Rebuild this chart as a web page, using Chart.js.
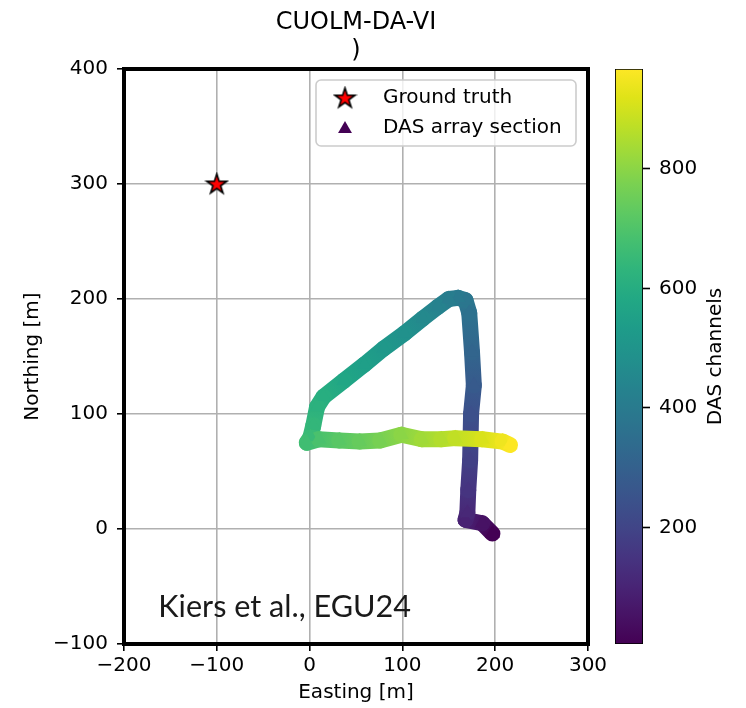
<!DOCTYPE html>
<html>
<head>
<meta charset="utf-8">
<script src="https://cdn.jsdelivr.net/npm/chart.js@4.4.1/dist/chart.umd.min.js"></script>
<style>
  html, body { margin: 0; padding: 0; background: #fff; }
  #wrap { position: relative; width: 746px; height: 708px; }
  #main { position: absolute; left: 0; top: 0; }
  #cbar { position: absolute; left: 600px; top: 0; }
</style>
</head>
<body>
<div id="wrap">
  <canvas id="main" width="746" height="708"></canvas>
  <canvas id="cbar" width="146" height="708"></canvas>
</div>
<script>
// values
const titleLines = ['CUOLM-DA-VI', ')'];
const groundTruthE = [-100];
const groundTruthN = [300];
// DAS array path vertices (m) and channel number at each vertex
const dasEasting  = [197, 186, 168, 170, 171, 173, 174, 177, 175, 172, 168, 160, 150, 138, 122, 102, 80, 59, 37, 15, 8, 4, 1, -3,
                     10, 32, 54, 76, 99, 121, 142, 157, 186, 208, 216];
const dasNorthing = [-4, 5, 8, 14, 34, 60, 100, 125, 154, 188, 199, 201, 200, 193, 183, 170, 157, 143, 129, 115, 106, 90, 80, 75,
                     78, 77, 76, 77, 82, 78, 78, 79, 78, 76, 73];
const dasChannel  = [5, 50, 95, 112, 150, 185, 240, 275, 315, 360, 380, 395, 410, 430, 455, 485, 515, 545, 575, 605, 620, 640, 655, 670,
                     690, 715, 740, 770, 800, 830, 855, 875, 910, 945, 965];
const channelRange = [5, 967];
const xTicks = [-200, -100, 0, 100, 200, 300];
const yTicks = [-100, 0, 100, 200, 300, 400];
const cbTicks = [200, 400, 600, 800];

const FONT = 'DejaVu Sans';

// viridis colour map
const viridis = ['#440154','#471365','#482475','#463480','#414487','#3b528b','#355f8d','#2f6c8e','#2a788e','#25848e',
                 '#21918c','#1e9c89','#22a884','#2fb47c','#44bf70','#5ec962','#7ad151','#9bd93c','#bddf26','#dfe318','#fde725'];
function hex2rgb(h) { return [1, 3, 5].map(i => parseInt(h.substr(i, 2), 16)); }
function cmap(v) {
  let t = (v - channelRange[0]) / (channelRange[1] - channelRange[0]);
  t = Math.max(0, Math.min(1, t)) * (viridis.length - 1);
  const i = Math.min(Math.floor(t), viridis.length - 2), f = t - i;
  const a = hex2rgb(viridis[i]), b = hex2rgb(viridis[i + 1]);
  return 'rgb(' + a.map((c, k) => Math.round(c + (b[k] - c) * f)).join(',') + ')';
}

// star marker like matplotlib '*'
function makeStar(R) {
  const c = document.createElement('canvas');
  const s = Math.ceil(R * 2 + 4);
  c.width = s; c.height = s;
  const g = c.getContext('2d');
  g.translate(s / 2, s / 2 + 0.5);
  g.beginPath();
  for (let i = 0; i < 10; i++) {
    const r = i % 2 ? R * 0.382 : R;
    const a = -Math.PI / 2 + i * Math.PI / 5;
    g.lineTo(r * Math.cos(a), r * Math.sin(a));
  }
  g.closePath();
  g.fillStyle = '#ff0000'; g.fill();
  g.lineWidth = 1.6; g.lineJoin = 'miter'; g.strokeStyle = '#000'; g.stroke();
  return c;
}
const star = makeStar(10.5);

const minus = v => String(v).replace('-', '\u2212');

const framePlugin = {
  id: 'frame',
  afterDatasetsDraw(chart) {
    const { ctx, chartArea: a, scales } = chart;
    ctx.save();
    // annotation text
    ctx.fillStyle = '#1a1a1a';
    ctx.font = '30.6px Lato';
    ctx.textBaseline = 'middle';
    ctx.textAlign = 'left';
    ctx.fillText('Kiers et al., EGU24', scales.x.getPixelForValue(-163), scales.y.getPixelForValue(-68));
    // spines
    ctx.strokeStyle = '#000';
    ctx.lineWidth = 4;
    ctx.strokeRect(a.left, a.top, a.right - a.left, a.bottom - a.top);
    // legend
    const bx = a.right - 272, by = a.top + 11, bw = 260, bh = 66;
    ctx.beginPath();
    ctx.roundRect(bx, by, bw, bh, 5);
    ctx.fillStyle = 'rgba(255,255,255,0.8)';
    ctx.fill();
    ctx.lineWidth = 1.6;
    ctx.strokeStyle = '#cccccc';
    ctx.stroke();
    const ds = chart.data.datasets;
    ctx.drawImage(star, bx + 29 - star.width / 2, by + 18 - star.height / 2);
    ctx.beginPath();
    const tx = bx + 29, ty = by + 48, r = 8;
    for (let i = 0; i < 3; i++) {
      const ang = -Math.PI / 2 + i * 2 * Math.PI / 3;
      ctx.lineTo(tx + r * Math.cos(ang), ty + 1 + r * Math.sin(ang));
    }
    ctx.closePath();
    ctx.fillStyle = cmap(channelRange[0]);
    ctx.fill();
    ctx.fillStyle = '#000';
    ctx.font = '20px "' + FONT + '"';
    ctx.fillText(ds[0].label, bx + 67, by + 18);
    ctx.fillText(ds[1].label, bx + 67, by + 48);
    ctx.restore();
  }
};

new Chart(document.getElementById('main'), {
  type: 'scatter',
  data: {
    datasets: [
      {
        label: 'Ground truth',
        data: groundTruthE.map((e, i) => ({ x: e, y: groundTruthN[i] })),
        pointStyle: star,
        order: 0
      },
      {
        label: 'DAS array section',
        data: dasEasting.map((e, i) => ({ x: e, y: dasNorthing[i] })),
        showLine: true,
        borderWidth: 16,
        borderCapStyle: 'round',
        borderJoinStyle: 'round',
        borderColor: cmap(500),
        segment: {
          borderColor: c => {
            const g = c.chart.ctx.createLinearGradient(c.p0.x, c.p0.y, c.p1.x, c.p1.y);
            g.addColorStop(0, cmap(dasChannel[c.p0DataIndex]));
            g.addColorStop(1, cmap(dasChannel[c.p1DataIndex]));
            return g;
          }
        },
        pointStyle: 'triangle',
        pointRadius: 8.5,
        pointBorderWidth: 0,
        pointBackgroundColor: dasChannel.map(cmap),
        order: 1
      }
    ]
  },
  options: {
    responsive: false,
    animation: false,
    events: [],
    layout: { padding: { left: 0, right: 158, top: 0, bottom: 0 } },
    plugins: {
      legend: { display: false },
      tooltip: { enabled: false },
      title: {
        display: true,
        text: titleLines,
        fullSize: false,
        color: '#000',
        font: { family: FONT, size: 24, weight: 'normal', lineHeight: 1.15 },
        padding: { top: 9, bottom: 4.8 }
      }
    },
    scales: {
      x: {
        type: 'linear', min: -200, max: 300,
        afterFit: s => { s.height = 64; s.paddingLeft = 0; s.paddingRight = 0; },
        afterBuildTicks: s => { s.ticks = xTicks.map(v => ({ value: v })); },
        ticks: { color: '#000', font: { family: FONT, size: 20 }, padding: 3, callback: minus, maxRotation: 0 },
        grid: { color: '#b0b0b0', lineWidth: 1.6, tickColor: '#000', tickLength: 7, tickWidth: 1.6 },
        border: { display: false },
        title: { display: true, text: 'Easting [m]', color: '#000', font: { family: FONT, size: 20, lineHeight: 1.2 }, padding: { top: 0, bottom: 3 } }
      },
      y: {
        type: 'linear', min: -100, max: 400,
        afterFit: s => { s.width = 124; },
        afterBuildTicks: s => { s.ticks = yTicks.map(v => ({ value: v })); },
        ticks: { color: '#000', font: { family: FONT, size: 20 }, padding: 9, callback: minus },
        grid: { color: '#b0b0b0', lineWidth: 1.6, tickColor: '#000', tickLength: 7, tickWidth: 1.6 },
        border: { display: false },
        title: { display: true, text: 'Northing [m]', color: '#000', font: { family: FONT, size: 20, lineHeight: 1.2 }, padding: { top: 21, bottom: 0 } }
      }
    }
  },
  plugins: [framePlugin]
});

// colour bar
const cbLabelPlugin = {
  id: 'cbLabel',
  afterDraw(chart) {
    const { ctx, chartArea: a } = chart;
    ctx.save();
    ctx.translate(116, (a.top + a.bottom) / 2);
    ctx.rotate(-Math.PI / 2);
    ctx.fillStyle = '#000';
    ctx.font = '20px "' + FONT + '"';
    ctx.textAlign = 'center';
    ctx.textBaseline = 'middle';
    ctx.fillText('DAS channels', 0, 0);
    ctx.restore();
  }
};

new Chart(document.getElementById('cbar'), {
  type: 'bar',
  data: {
    labels: [''],
    datasets: [{
      data: [channelRange],
      backgroundColor: c => {
        const a = c.chart.chartArea;
        if (!a) return '#21918c';
        const g = c.chart.ctx.createLinearGradient(0, a.bottom, 0, a.top);
        viridis.forEach((col, i) => g.addColorStop(i / (viridis.length - 1), col));
        return g;
      },
      borderColor: '#000',
      borderWidth: 1.2,
      borderSkipped: false,
      categoryPercentage: 1,
      barPercentage: 1
    }]
  },
  options: {
    responsive: false,
    animation: false,
    events: [],
    layout: { padding: { left: 15, right: 0, top: 69, bottom: 64 } },
    plugins: { legend: { display: false }, tooltip: { enabled: false } },
    scales: {
      x: { display: false },
      y: {
        position: 'right',
        min: channelRange[0], max: channelRange[1],
        afterFit: s => { s.width = 103; },
        afterBuildTicks: s => { s.ticks = cbTicks.map(v => ({ value: v })); },
        ticks: { color: '#000', font: { family: FONT, size: 20 }, padding: 9 },
        grid: { drawOnChartArea: false, tickColor: '#000', tickLength: 7, tickWidth: 1.6 },
        border: { display: false }
      }
    }
  },
  plugins: [cbLabelPlugin]
});
</script>
</body>
</html>
